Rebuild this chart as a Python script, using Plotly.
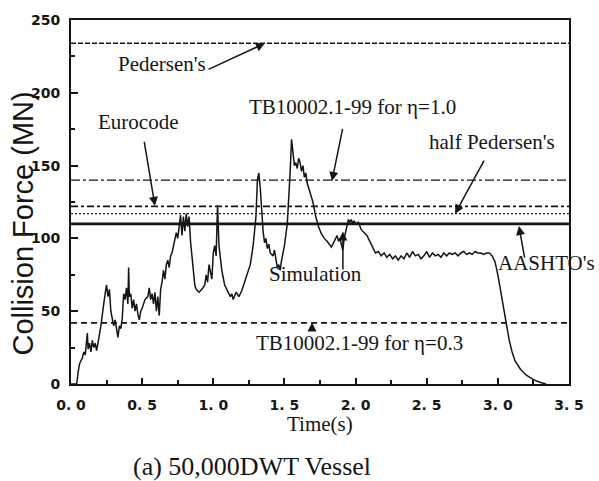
import plotly.graph_objects as go

# ---- Simulation curve (time s, force MN) ----
sim_t = [0.00, 0.04, 0.05, 0.06, 0.08, 0.09, 0.10, 0.11, 0.115, 0.12, 0.13, 0.14, 0.15, 0.16, 0.17,
         0.18, 0.19, 0.20, 0.21, 0.22, 0.23, 0.24, 0.25, 0.26, 0.27, 0.28, 0.29, 0.30, 0.31, 0.32,
         0.33, 0.34, 0.35, 0.36, 0.37, 0.38, 0.39, 0.40, 0.405, 0.41, 0.42, 0.43, 0.44, 0.45, 0.46,
         0.47, 0.48, 0.49, 0.50, 0.52, 0.54, 0.55, 0.56, 0.57, 0.58, 0.59, 0.60, 0.61, 0.62, 0.63,
         0.64, 0.65, 0.66, 0.67, 0.68, 0.69, 0.70, 0.71, 0.72, 0.73, 0.74, 0.75, 0.76, 0.77, 0.78,
         0.79, 0.80, 0.81, 0.82, 0.83, 0.84, 0.85, 0.86, 0.87, 0.88, 0.90, 0.92, 0.94, 0.95, 0.96,
         0.97, 0.98, 0.99, 1.00, 1.01, 1.02, 1.03, 1.04, 1.05, 1.06, 1.08, 1.10, 1.12, 1.13, 1.14,
         1.16, 1.18, 1.20, 1.22, 1.24, 1.26, 1.28, 1.30, 1.31, 1.32, 1.33, 1.34, 1.35, 1.36, 1.37,
         1.38, 1.39, 1.40, 1.42, 1.43, 1.44, 1.45, 1.46, 1.47, 1.48, 1.50, 1.52, 1.53, 1.54, 1.55,
         1.56, 1.57, 1.58, 1.59, 1.60, 1.61, 1.62, 1.63, 1.64, 1.65, 1.66, 1.68, 1.70, 1.72, 1.74,
         1.76, 1.78, 1.80, 1.82, 1.83, 1.85, 1.87, 1.88, 1.89, 1.90, 1.91, 1.92, 1.94, 1.95, 1.96,
         1.97, 1.98, 1.99, 2.00, 2.02, 2.04, 2.06, 2.08, 2.10, 2.12, 2.14, 2.16, 2.18, 2.20, 2.22,
         2.24, 2.26, 2.28, 2.30, 2.32, 2.34, 2.36, 2.38, 2.40, 2.42, 2.44, 2.46, 2.48, 2.50, 2.52,
         2.54, 2.56, 2.58, 2.60, 2.62, 2.64, 2.66, 2.68, 2.70, 2.72, 2.74, 2.76, 2.78, 2.80, 2.82,
         2.84, 2.86, 2.88, 2.90, 2.92, 2.94, 2.96, 2.98, 3.00, 3.02, 3.04, 3.06, 3.08, 3.10, 3.12,
         3.16, 3.20, 3.25, 3.30, 3.34]
sim_f = [0, 0, 8, 14, 18, 22, 20, 30, 35, 24, 28, 22, 30, 25, 28,
         23, 30, 34, 40, 50, 55, 62, 68, 60, 65, 50, 45, 40, 44, 36,
         32, 40, 38, 45, 62, 58, 66, 55, 80, 60, 62, 52, 58, 50, 55,
         48, 44, 50, 52, 58, 60, 66, 58, 62, 55, 63, 50, 60, 47, 65,
         70, 78, 72, 82, 85, 80, 88, 90, 95, 98, 104, 100, 110, 116, 102,
         115, 105, 117, 108, 115, 98, 88, 75, 68, 65, 63, 65, 68, 75, 70,
         82, 78, 72, 90, 95, 88, 123, 95, 85, 78, 68, 64, 60, 62, 58,
         63, 60, 64, 70, 75, 82, 95, 115, 140, 145, 135, 115, 105, 97, 100,
         93, 96, 90, 88, 92, 85, 80, 82, 78, 85, 95, 110, 125, 145, 168,
         160, 150, 152, 148, 155, 152, 146, 150, 142, 145, 138, 132, 125, 115, 108,
         103, 100, 98, 95, 94, 98, 102, 98, 100, 96, 92, 100, 108, 113, 111,
         113, 110, 112, 110, 111, 106, 104, 102, 98, 94, 90, 91, 88, 90, 87,
         89, 86, 88, 85, 88, 86, 90, 87, 91, 88, 89, 86, 88, 91, 87,
         90, 88, 89, 87, 90, 88, 90, 89, 90, 88, 90, 91, 89, 90, 89,
         91, 90, 90, 89, 90, 90, 88, 84, 75, 64, 52, 40, 30, 22, 16,
         10, 6, 3, 1, 0]

# ---- Code / design force levels (MN) ----
pedersen = 234
tb_eta10 = 140
eurocode = 122
half_pedersen = 117
aashto = 110
tb_eta03 = 42

x_ticks = [0.0, 0.5, 1.0, 1.5, 2.0, 2.5, 3.0, 3.5]
x_tick_text = ["0. 0", "0. 5", "1. 0", "1. 5", "2. 0", "2. 5", "3. 0", "3. 5"]
y_ticks = [0, 50, 100, 150, 200, 250]

INK = "#151515"
fig = go.Figure()

def hline(val, dash, width):
    fig.add_trace(go.Scatter(x=[0.0, 3.5], y=[val, val], mode="lines",
                             line=dict(color=INK, width=width, dash=dash),
                             showlegend=False, hoverinfo="skip"))

hline(pedersen, "5px,2px", 1.6)
hline(tb_eta10, "9px,3px,3px,3px", 1.4)
hline(eurocode, "7px,3px,3px,3px", 1.6)
hline(half_pedersen, "2px,2px", 1.4)
hline(aashto, "solid", 2.8)
hline(tb_eta03, "6px,4px", 1.6)

fig.add_trace(go.Scatter(x=sim_t, y=sim_f, mode="lines",
                         line=dict(color=INK, width=1.5),
                         showlegend=False, hoverinfo="skip"))

serif = "Liberation Serif, Times New Roman, serif"
anno_font = dict(family=serif, size=21, color=INK)

texts = [
    ("Pedersen's", 0.64, 220),
    ("TB10002.1-99 for η=1.0", 1.98, 190),
    ("Eurocode", 0.47, 180),
    ("half Pedersen's", 2.96, 166),
    ("AASHTO's", 3.345, 83),
    ("Simulation", 1.715, 75.5),
    ("TB10002.1-99 for η=0.3", 2.03, 28),
]
for txt, x, y in texts:
    fig.add_annotation(x=x, y=y, xref="x", yref="y", text=txt, showarrow=False,
                       font=anno_font, xanchor="center", yanchor="middle")

arrows = [
    # tip x, tip y, tail x, tail y
    (1.363, 234, 0.956, 215.6),
    (1.834, 139.5, 1.911, 176.2),
    (0.59, 122.4, 0.513, 167.3),
    (2.699, 117, 2.909, 154.4),
    (3.148, 108.5, 3.19, 85.7),
    (1.911, 104.8, 1.911, 77.6),
    (1.694, 42.2, 1.694, 36.7),
]
for tx, ty, sx, sy in arrows:
    fig.add_annotation(x=tx, y=ty, ax=sx, ay=sy, xref="x", yref="y", axref="x", ayref="y",
                       text="", showarrow=True, arrowhead=2, arrowsize=1.2, arrowwidth=1.5,
                       arrowcolor=INK)

fig.add_annotation(x=-0.097, y=0.44, xref="paper", yref="paper", text="Collision Force (MN)",
                   textangle=-90, showarrow=False, xanchor="center", yanchor="middle",
                   font=dict(family="Liberation Sans, Arial, sans-serif", size=29, color=INK))
fig.add_annotation(x=0.5, y=-0.109, xref="paper", yref="paper", text="Time(s)",
                   showarrow=False, xanchor="center", yanchor="middle",
                   font=dict(family=serif, size=21, color=INK))
fig.add_annotation(x=0.363, y=-0.226, xref="paper", yref="paper", text="(a) 50,000DWT Vessel",
                   showarrow=False, xanchor="center", yanchor="middle",
                   font=dict(family=serif, size=26, color=INK))

tick_font = dict(family="DejaVu Sans, sans-serif", size=14, color=INK, weight="bold")
fig.update_xaxes(range=[0, 3.5], tickvals=x_ticks, ticktext=x_tick_text,
                 ticks="inside", ticklen=6, tickwidth=1.5, tickcolor=INK,
                 minor=dict(dtick=0.25, ticks="inside", ticklen=4, tickcolor=INK, tickwidth=1.5),
                 showline=True, linecolor=INK, linewidth=2, mirror=True,
                 showgrid=False, zeroline=False, tickfont=tick_font, ticklabelstandoff=7)
fig.update_yaxes(range=[0, 250], tickvals=y_ticks,
                 ticks="inside", ticklen=7, tickwidth=1.5, tickcolor=INK,
                 minor=dict(dtick=25, ticks="inside", ticklen=4, tickcolor=INK, tickwidth=1.5),
                 showline=True, linecolor=INK, linewidth=2, mirror=True,
                 showgrid=False, zeroline=False, tickfont=tick_font, ticklabelstandoff=6)

fig.update_layout(width=599, height=481, margin=dict(l=71, r=30, t=16, b=97),
                  plot_bgcolor="white", paper_bgcolor="white", showlegend=False)

fig.write_html("out.html", config={"displayModeBar": False},
               post_script="document.body.style.margin='0px';")
